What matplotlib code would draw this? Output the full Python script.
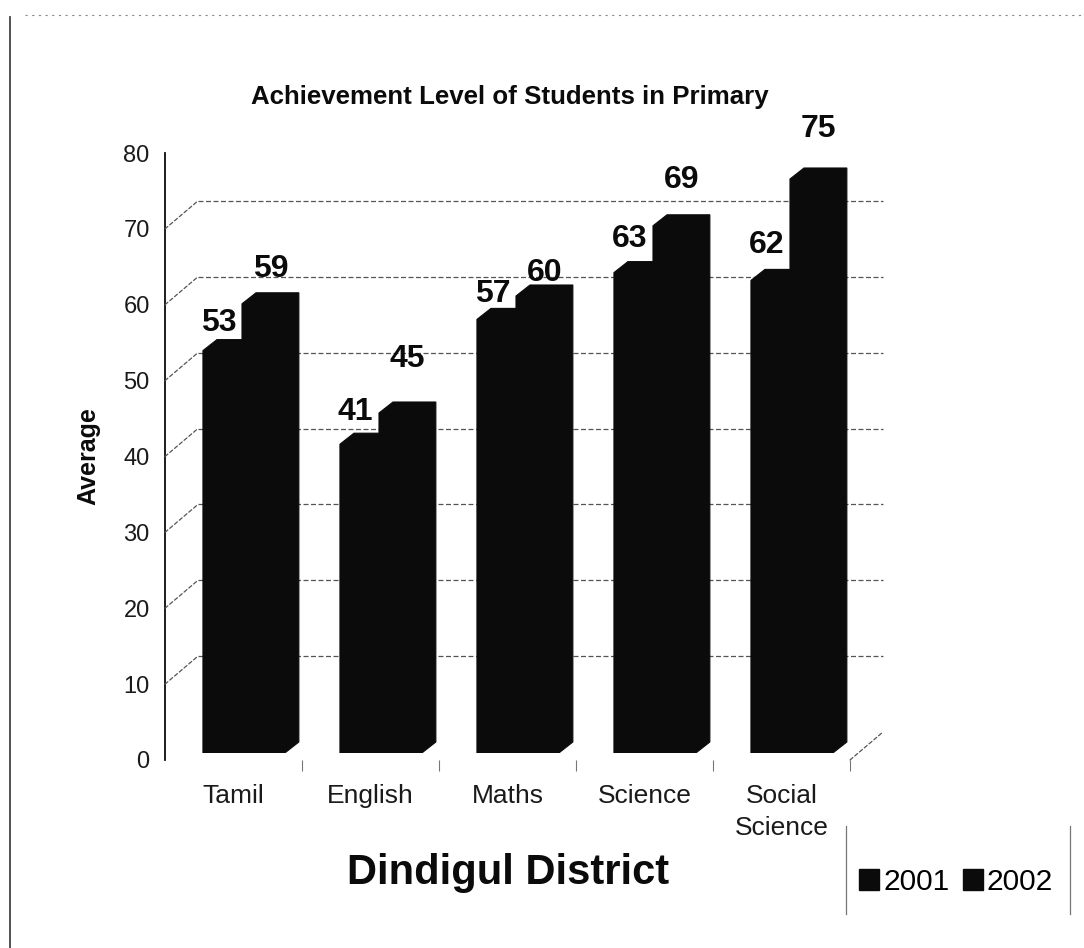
import matplotlib
matplotlib.use('Agg')
import matplotlib.pyplot as plt
import matplotlib.transforms as mtransforms
from matplotlib.patches import Polygon, Patch, ConnectionPatch
from matplotlib.lines import Line2D

subjects = ['Tamil', 'English', 'Maths', 'Science', 'Social\nScience']
years = ['2001', '2002']
avg_2001 = [53, 41, 57, 63, 62]
avg_2002 = [59, 45, 60, 69, 75]
y_ticks = [0, 10, 20, 30, 40, 50, 60, 70, 80]

# excel puts the 3-D data labels a bit loosely above the bars (pixels)
lift_2001 = [17, 21, 14, 23, 24]
lift_2002 = [24, 43, 12, 35, 39]

W, H, DPI = 1084, 948, 100
INK = '#0b0b0b'
plt.rcParams['font.family'] = ['Liberation Sans', 'DejaVu Sans']

fig = plt.figure(figsize=(W / DPI, H / DPI), dpi=DPI)
fig.patch.set_facecolor('white')


def px_box(left, top, right, bottom):
  return [left / W, 1 - bottom / H, (right - left) / W, (bottom - top) / H]


n = len(subjects)

# front plane, carries the value axis
ax = fig.add_axes(px_box(165, 153, 850, 760))
ax.set_xlim(0, n)
ax.set_ylim(y_ticks[0], y_ticks[-1])
ax.patch.set_visible(False)
for s in ['top', 'right', 'bottom']:
  ax.spines[s].set_visible(False)
ax.spines['left'].set_color(INK)
ax.spines['left'].set_linewidth(1.3)
ax.set_yticks(y_ticks)
ax.tick_params(axis='y', length=0, pad=11, labelsize=17, colors='#1a1a1a')
ax.set_xticks([i + 0.5 for i in range(n)])
ax.set_xticklabels(subjects, linespacing=1.45)
ax.set_xticks(list(range(1, n + 1)), minor=True)
ax.tick_params(axis='x', which='major', length=0, pad=17, labelsize=19, colors='#1a1a1a')
ax.tick_params(axis='x', which='minor', length=8, width=0.8, colors='#777777', direction='out')

# back wall is pushed up and right
DX, DY = 33, 28
back = ax.transData + mtransforms.ScaledTranslation(DX / DPI, DY / DPI, fig.dpi_scale_trans)
for v in y_ticks[1:-1]:
  ax.plot([0, n], [v, v], transform=back, color='#555555', lw=0.9,
          ls=(0, (4, 2)), clip_on=False)
  fig.add_artist(ConnectionPatch(xyA=(0, v), coordsA=ax.transData, xyB=(0, v), coordsB=back,
                                 color='#555555', lw=0.9, ls=(0, (3, 2))))
fig.add_artist(ConnectionPatch(xyA=(n, 0), coordsA=ax.transData, xyB=(n, 0), coordsB=back,
                               color='#555555', lw=0.9, ls=(0, (3, 2))))

# bars sit a little deeper, on a slightly larger scale
BAR_PX = 7.8
bx = fig.add_axes(px_box(165, 753 - 80 * BAR_PX, 850, 753))
bx.set_xlim(0, n)
bx.set_ylim(0, 80)
bx.axis('off')
bx.patch.set_visible(False)

CX, CY = 14 / 137, 11 / BAR_PX
g0, w1, w2 = 0.277, 0.285, 0.415
for i in range(n):
  a, b = avg_2001[i], avg_2002[i]
  xl = i + g0
  xm = xl + w1
  xr = xm + w2
  bx.add_patch(Polygon([(xl, 0), (xm, 0), (xm, a), (xl + CX, a), (xl, a - CY)],
                       closed=True, facecolor=INK, edgecolor=INK, lw=0.8))
  bx.add_patch(Polygon([(xm, 0), (xr - CX, 0), (xr, CY), (xr, b), (xm + CX, b), (xm, b - CY)],
                       closed=True, facecolor=INK, edgecolor=INK, lw=0.8))
  bx.annotate(str(a), (xl + w1 / 2 - 0.03, a), xytext=(0, lift_2001[i] * 0.72),
              textcoords='offset points', ha='center', va='center',
              fontsize=23, fontweight='bold', color=INK)
  bx.annotate(str(b), (xm + w2 / 2, b), xytext=(0, lift_2002[i] * 0.72),
              textcoords='offset points', ha='center', va='center',
              fontsize=23, fontweight='bold', color=INK)

fig.text(510 / W, 1 - 97 / H, 'Achievement Level of Students in Primary',
         ha='center', va='center', fontsize=18.6, fontweight='bold', color=INK)
fig.text(88 / W, 1 - 456 / H, 'Average', rotation=90, ha='center', va='center',
         fontsize=18, fontweight='bold', color=INK)
fig.text(508 / W, 1 - 873 / H, 'Dindigul District', ha='center', va='center',
         fontsize=30, fontweight='bold', color=INK)

handles = [Patch(facecolor=INK, edgecolor=INK) for _ in years]
fig.legend(handles, years, loc='center', bbox_to_anchor=(956 / W, 1 - 882 / H), ncol=2,
           frameon=False, fontsize=21.5, handlelength=0.68, handleheight=0.68,
           handletextpad=0.12, columnspacing=0.45, borderpad=0.1)
for xx in [846, 1070]:
  fig.add_artist(Line2D([xx / W, xx / W], [1 - 826 / H, 1 - 914 / H], color='#777777', lw=0.9))

# bits of the scanned chart-area frame
fig.add_artist(Line2D([10 / W, 10 / W], [0, 1 - 17 / H], color='#444444', lw=1.3))
fig.add_artist(Line2D([25 / W, 1], [1 - 15 / H, 1 - 15 / H], color='#888888', lw=0.8,
                      ls=(0, (2, 4))))

fig.savefig('out.png', dpi=DPI, facecolor='white')
